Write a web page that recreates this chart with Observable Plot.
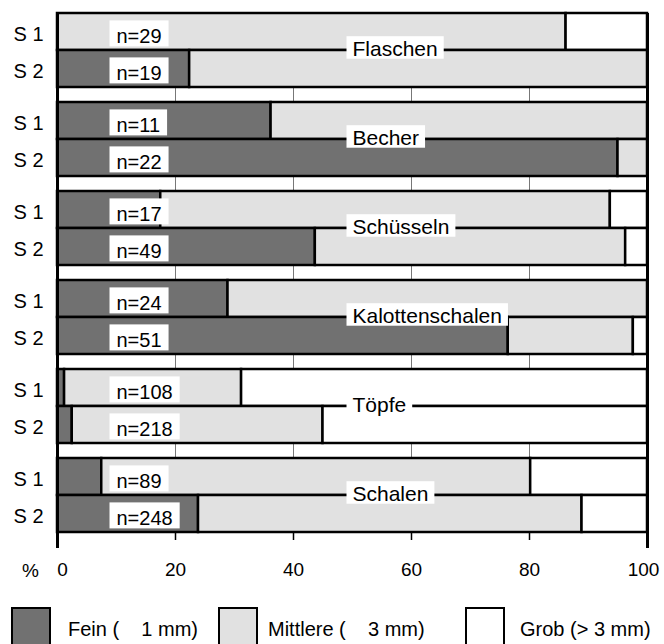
<!DOCTYPE html>
<html><head><meta charset="utf-8">
<script src="https://cdn.jsdelivr.net/npm/d3@7"></script>
<script src="https://cdn.jsdelivr.net/npm/@observablehq/plot@0.6"></script>
<style>
body{margin:0;background:#fff;overflow:hidden;font-family:"Liberation Sans",Arial,sans-serif;color:#000}
#wrap{position:relative;width:664px;height:644px;overflow:hidden}
#legend .box{position:absolute;top:607px;width:36px;height:44px;border:2.5px solid #000;box-sizing:content-box}
#legend .lab{position:absolute;top:617px;font-size:20px;line-height:24px;white-space:pre}
</style></head><body>
<div id="wrap"><div id="chart"></div><div id="legend"></div></div>
<script>
const categories = ["Flaschen","Becher","Schüsseln","Kalottenschalen","Töpfe","Schalen"];
const series = ["S 1","S 2"];
const nS1 = [29,11,17,24,108,89];
const nS2 = [19,22,49,51,218,248];
const feinS1   = [0,   36.2, 17.5, 28.9, 1.2, 7.5];
const mittelS1 = [86.2,63.8, 76.2, 71.1, 30.0,72.7];
const grobS1   = [13.8, 0,    6.3,  0,   68.8,19.8];
const feinS2   = [22.4,95.0, 43.7, 76.4, 2.5, 23.9];
const mittelS2 = [77.6, 5.0, 52.6, 21.2, 42.5,65.0];
const grobS2   = [0,    0,    3.7,  2.4, 55.0,11.1];
const classes = ["Fein","Mittlere","Grob"];
const classLabels = ["Fein (\u00a0\u00a0\u00a0 1 mm)","Mittlere (\u00a0\u00a0\u00a0 3 mm)","Grob (> 3 mm)"];
const classColors = ["#717171","#e1e1e1","#ffffff"];
const gridTicks = [20,40,60,80];
const frameTicks = [0,100];

const segs = [];
const rows = [];
categories.forEach((c,i)=>{
  [[feinS1,mittelS1,grobS1,nS1,"S 1"],[feinS2,mittelS2,grobS2,nS2,"S 2"]].forEach(([f,m,g,n,s])=>{
    [f[i],m[i],g[i]].forEach((v,k)=>segs.push({cat:c,s,cls:classes[k],v}));
    rows.push({cat:c,s,n:n[i]});
  });
});
const gridData = categories.slice(0,-1).flatMap(c=>gridTicks.map(x=>({cat:c,x})));
const frameData = categories.flatMap(c=>frameTicks.map(x=>({cat:c,x})));

const gap = 16;
const chart = Plot.plot({
  width: 664, height: 600,
  marginLeft: 57, marginRight: 17, marginTop: 11, marginBottom: 67,
  style: {fontFamily: "'Liberation Sans', Arial, sans-serif", fontSize: "20px", color: "#000", background: "#fff"},
  x: {domain: [0,100], axis: null, label: null},
  y: {domain: series, padding: 0, axis: null, label: null},
  fy: {domain: categories, paddingInner: 0.174, paddingOuter: 0, axis: null, label: null},
  color: {domain: classes, range: classColors},
  marks: [
    Plot.ruleX(gridData, {x: "x", fy: "cat", stroke: "#777", strokeWidth: 1, insetBottom: -gap}),
    Plot.barX(segs, Plot.stackX({x: "v", y: "s", fy: "cat", fill: "cls", stroke: "#000", strokeWidth: 2.5})),
    Plot.ruleX(frameData, {x: "x", fy: "cat", stroke: "#000", strokeWidth: 3, insetBottom: -gap}),
    Plot.text(rows, {fy: "cat", y: "s", text: "s", frameAnchor: "left", textAnchor: "start", dx: -44, dy: 3, fontSize: 20}),
    Plot.text(rows, {fy: "cat", y: "s", x: () => 10, text: d => "n=" + d.n, textAnchor: "start", dy: 5, fontSize: 20}),
    Plot.text(categories, {fy: d => d, x: () => 50, text: d => d, frameAnchor: "middle", textAnchor: "start", dy: -1, fontSize: 21}),
    Plot.axisX([20,40,60,80], {tickSize: 8, tickPadding: 22, fontSize: 19, label: null, strokeWidth: 1.5}),
    Plot.axisX([100], {tickSize: 0, tickPadding: 30, fontSize: 19, label: null, dx: -4}),
    Plot.axisX([0], {tickSize: 0, tickPadding: 30, fontSize: 19, label: null, dx: 5}),
    Plot.text(["%"], {fy: () => categories[categories.length-1], frameAnchor: "bottom-left", text: d => d, textAnchor: "middle", dx: -27, dy: 44, fontSize: 19})
  ]
});
document.getElementById("chart").append(chart);
const svg = chart.tagName.toLowerCase() === "svg" ? chart : chart.querySelector("svg");
svg.querySelectorAll("text").forEach(t => {
  const s = t.textContent;
  let pad;
  if (/^n=\d+$/.test(s)) pad = {x: 7, top: 5, h: 4};
  else if (categories.includes(s)) pad = {x: 6, top: 1, h: -0.5};
  else return;
  const b = t.getBBox();
  const r = document.createElementNS("http://www.w3.org/2000/svg","rect");
  r.setAttribute("x", b.x - pad.x);
  r.setAttribute("y", b.y - pad.top);
  r.setAttribute("width", b.width + 2 * pad.x);
  r.setAttribute("height", b.height + pad.h);
  r.setAttribute("fill", "#fff");
  if (t.getAttribute("transform")) r.setAttribute("transform", t.getAttribute("transform"));
  t.parentNode.insertBefore(r, t);
});
const legend = document.getElementById("legend");
const boxX = [11, 218, 465];
const labX = [68, 268, 520];
classes.forEach((c,i)=>{
  const b = document.createElement("div");
  b.className = "box"; b.style.left = boxX[i] + "px"; b.style.background = classColors[i];
  legend.append(b);
  const l = document.createElement("div");
  l.className = "lab"; l.style.left = labX[i] + "px"; l.textContent = classLabels[i];
  legend.append(l);
});
</script>
</body></html>
